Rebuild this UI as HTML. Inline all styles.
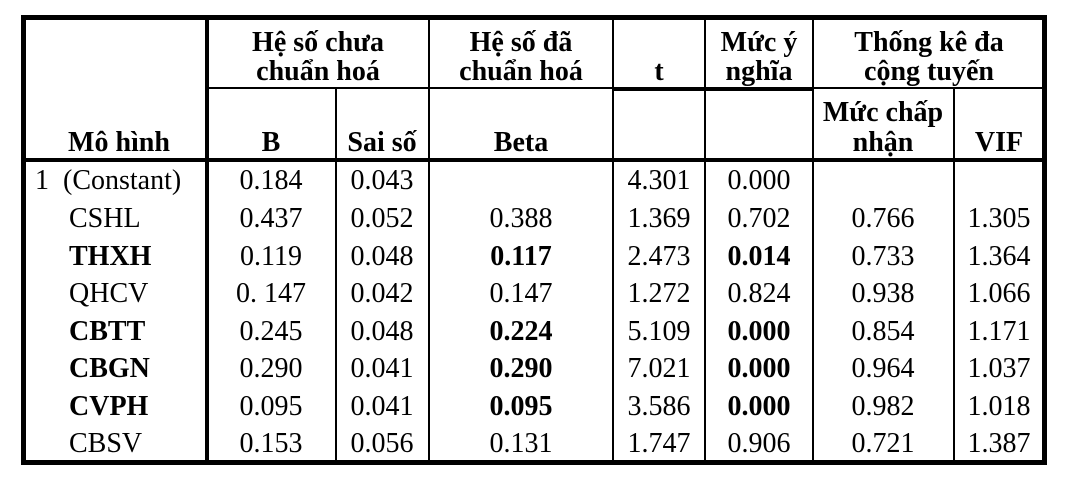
<!DOCTYPE html>
<html><head><meta charset="utf-8"><style>
body{margin:0;background:#fff;width:1065px;height:479px;position:relative;overflow:hidden;font-family:"Liberation Serif",serif;color:#000}
.l{position:absolute;background:#000}
.t{position:absolute;font-size:28px;line-height:32px;white-space:nowrap;transform:translate(-50%,-50%)}
.b{font-weight:bold}
.h{font-size:28px}
.L{transform:translate(0,-50%)}
</style></head><body>
<div class="l" style="left:21px;top:15px;width:1026px;height:5px"></div>
<div class="l" style="left:21px;top:460px;width:1026px;height:5px"></div>
<div class="l" style="left:21px;top:15px;width:5px;height:450px"></div>
<div class="l" style="left:1042px;top:15px;width:5px;height:450px"></div>
<div class="l" style="left:21px;top:158px;width:1026px;height:4px"></div>
<div class="l" style="left:205px;top:15px;width:4px;height:450px"></div>
<div class="l" style="left:207px;top:87px;width:838px;height:2px"></div>
<div class="l" style="left:613px;top:88px;width:200px;height:3px"></div>
<div class="l" style="left:335px;top:88px;width:2px;height:375px"></div>
<div class="l" style="left:428px;top:15px;width:2px;height:450px"></div>
<div class="l" style="left:612px;top:15px;width:2px;height:450px"></div>
<div class="l" style="left:704px;top:15px;width:2px;height:450px"></div>
<div class="l" style="left:812px;top:15px;width:2px;height:450px"></div>
<div class="l" style="left:953px;top:88px;width:2px;height:375px"></div>

<div class="t b h" style="left:318px;top:43px">Hệ số chưa</div>
<div class="t b h" style="left:318px;top:72px">chuẩn hoá</div>
<div class="t b h" style="left:521px;top:43px">Hệ số đã</div>
<div class="t b h" style="left:521px;top:72px">chuẩn hoá</div>
<div class="t b h" style="left:659px;top:72px">t</div>
<div class="t b h" style="left:759px;top:43px">Mức ý</div>
<div class="t b h" style="left:759px;top:72px">nghĩa</div>
<div class="t b h" style="left:929px;top:43px">Thống kê đa</div>
<div class="t b h" style="left:929px;top:72px">cộng tuyến</div>
<div class="t b h" style="left:119px;top:143px">Mô hình</div>
<div class="t b h" style="left:271px;top:143px">B</div>
<div class="t b h" style="left:382px;top:143px">Sai số</div>
<div class="t b h" style="left:521px;top:143px">Beta</div>
<div class="t b h" style="left:883px;top:113px">Mức chấp</div>
<div class="t b h" style="left:883px;top:143px">nhận</div>
<div class="t b h" style="left:999px;top:143px">VIF</div>

<div class="t L" style="left:35px;top:181px">1&nbsp;&nbsp;(Constant)</div>
<div class="t" style="left:271px;top:181px">0.184</div><div class="t" style="left:382px;top:181px">0.043</div>
<div class="t" style="left:659px;top:181px">4.301</div><div class="t" style="left:759px;top:181px">0.000</div>

<div class="t L" style="left:69px;top:219px">CSHL</div>
<div class="t" style="left:271px;top:219px">0.437</div><div class="t" style="left:382px;top:219px">0.052</div><div class="t" style="left:521px;top:219px">0.388</div>
<div class="t" style="left:659px;top:219px">1.369</div><div class="t" style="left:759px;top:219px">0.702</div><div class="t" style="left:883px;top:219px">0.766</div><div class="t" style="left:999px;top:219px">1.305</div>

<div class="t L b" style="left:69px;top:257px">THXH</div>
<div class="t" style="left:271px;top:257px">0.119</div><div class="t" style="left:382px;top:257px">0.048</div><div class="t b" style="left:521px;top:257px">0.117</div>
<div class="t" style="left:659px;top:257px">2.473</div><div class="t b" style="left:759px;top:257px">0.014</div><div class="t" style="left:883px;top:257px">0.733</div><div class="t" style="left:999px;top:257px">1.364</div>

<div class="t L" style="left:69px;top:294px">QHCV</div>
<div class="t" style="left:271px;top:294px">0. 147</div><div class="t" style="left:382px;top:294px">0.042</div><div class="t" style="left:521px;top:294px">0.147</div>
<div class="t" style="left:659px;top:294px">1.272</div><div class="t" style="left:759px;top:294px">0.824</div><div class="t" style="left:883px;top:294px">0.938</div><div class="t" style="left:999px;top:294px">1.066</div>

<div class="t L b" style="left:69px;top:332px">CBTT</div>
<div class="t" style="left:271px;top:332px">0.245</div><div class="t" style="left:382px;top:332px">0.048</div><div class="t b" style="left:521px;top:332px">0.224</div>
<div class="t" style="left:659px;top:332px">5.109</div><div class="t b" style="left:759px;top:332px">0.000</div><div class="t" style="left:883px;top:332px">0.854</div><div class="t" style="left:999px;top:332px">1.171</div>

<div class="t L b" style="left:69px;top:369px">CBGN</div>
<div class="t" style="left:271px;top:369px">0.290</div><div class="t" style="left:382px;top:369px">0.041</div><div class="t b" style="left:521px;top:369px">0.290</div>
<div class="t" style="left:659px;top:369px">7.021</div><div class="t b" style="left:759px;top:369px">0.000</div><div class="t" style="left:883px;top:369px">0.964</div><div class="t" style="left:999px;top:369px">1.037</div>

<div class="t L b" style="left:69px;top:407px">CVPH</div>
<div class="t" style="left:271px;top:407px">0.095</div><div class="t" style="left:382px;top:407px">0.041</div><div class="t b" style="left:521px;top:407px">0.095</div>
<div class="t" style="left:659px;top:407px">3.586</div><div class="t b" style="left:759px;top:407px">0.000</div><div class="t" style="left:883px;top:407px">0.982</div><div class="t" style="left:999px;top:407px">1.018</div>

<div class="t L" style="left:69px;top:444px">CBSV</div>
<div class="t" style="left:271px;top:444px">0.153</div><div class="t" style="left:382px;top:444px">0.056</div><div class="t" style="left:521px;top:444px">0.131</div>
<div class="t" style="left:659px;top:444px">1.747</div><div class="t" style="left:759px;top:444px">0.906</div><div class="t" style="left:883px;top:444px">0.721</div><div class="t" style="left:999px;top:444px">1.387</div>
</body></html>
